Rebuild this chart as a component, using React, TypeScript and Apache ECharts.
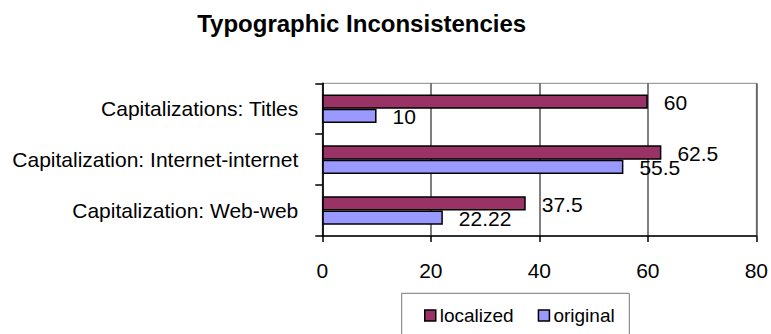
import React, { useEffect, useRef } from "react";
import * as echarts from "echarts";

const title = "Typographic Inconsistencies";
const categories = [
  "Capitalizations: Titles",
  "Capitalization: Internet-internet",
  "Capitalization: Web-web",
];
const localized = [60, 62.5, 37.5];
const original = [10, 55.5, 22.22];
const seriesNames = ["localized", "original"];
const xTicks = [0, 20, 40, 60, 80];

const FONT = "Liberation Sans, Arial, sans-serif";

export default function App() {
  const ref = useRef<HTMLDivElement>(null);
  useEffect(() => {
    document.body.style.margin = "0";
    const chart = echarts.init(ref.current!, null, { renderer: "svg" });
    const labelStyle = {
      show: true,
      position: "right" as const,
      distance: 16,
      fontSize: 21,
      fontFamily: FONT,
      color: "#000",
      offset: [0, 1],
    };
    chart.setOption({
      animation: false,
      backgroundColor: "#fff",
      textStyle: { fontFamily: FONT },
      graphic: [
        {
          type: "text",
          x: 361.7,
          y: 23.3,
          style: {
            text: title,
            align: "center",
            verticalAlign: "middle",
            font: `bold 24px ${FONT}`,
            fill: "#000",
          },
        },
        {
          type: "rect",
          shape: { x: 401.7, y: 293.3, width: 227.6, height: 60 },
          style: { fill: "none", stroke: "#777", lineWidth: 1 },
          z: 0,
        },
      ],
      legend: {
        left: 424,
        top: 306,
        padding: 0,
        itemGap: 24,
        itemWidth: 11,
        itemHeight: 11,
        icon: "rect",
        itemStyle: { borderColor: "#000", borderWidth: 1.5 },
        textStyle: { fontSize: 19, fontFamily: FONT, color: "#000", padding: [0, 0, 0, -1] },
        data: seriesNames,
      },
      grid: {
        left: 322.3,
        right: 13.3,
        top: 83.3,
        bottom: 98,
        show: true,
        borderColor: "#888",
        borderWidth: 1,
      },
      xAxis: {
        type: "value",
        min: xTicks[0],
        max: xTicks[xTicks.length - 1],
        interval: 20,
        axisLine: { show: true, lineStyle: { color: "#000", width: 1.5 } },
        axisTick: { show: true, length: 6, lineStyle: { color: "#000", width: 1.5 } },
        axisLabel: { fontSize: 21, fontFamily: FONT, color: "#000", margin: 24 },
        splitLine: { show: true, lineStyle: { color: "#555", width: 1.5 } },
      },
      yAxis: {
        type: "category",
        inverse: true,
        data: categories,
        axisLine: { show: true, lineStyle: { color: "#000", width: 1.5 } },
        axisTick: { show: true, length: 7, alignWithLabel: false, lineStyle: { color: "#000", width: 1.5 } },
        axisLabel: { fontSize: 21, fontFamily: FONT, color: "#000", margin: 24 },
        splitLine: { show: false },
      },
      series: [
        {
          name: seriesNames[0],
          type: "bar",
          data: localized,
          barWidth: 14.3,
          barGap: "0%",
          itemStyle: { color: "#993366", borderColor: "#000", borderWidth: 1.5 },
          label: labelStyle,
        },
        {
          name: seriesNames[1],
          type: "bar",
          data: original,
          barWidth: 14.3,
          barGap: "0%",
          itemStyle: { color: "#9999FF", borderColor: "#000", borderWidth: 1.5 },
          label: labelStyle,
        },
      ],
    });
    return () => chart.dispose();
  }, []);
  return <div ref={ref} style={{ width: 771, height: 334 }} />;
}
